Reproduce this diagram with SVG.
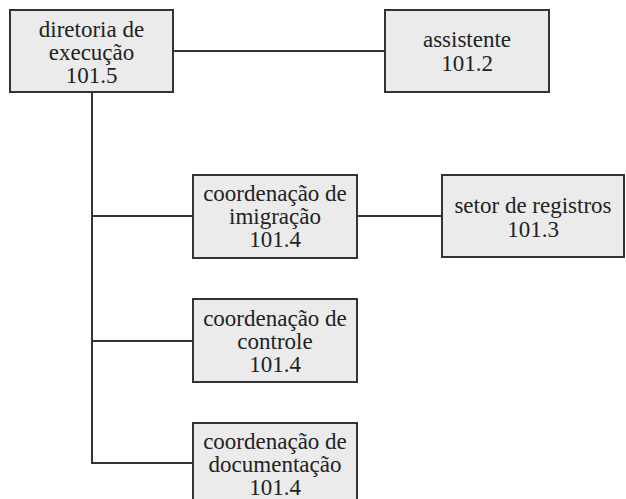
<svg xmlns="http://www.w3.org/2000/svg" width="626" height="499" viewBox="0 0 626 499">
<style>
.box{fill:#ebebeb;stroke:#333;stroke-width:2}
.ln{fill:none;stroke:#333;stroke-width:2}
.t{font-family:"Liberation Serif","Times New Roman",serif;font-size:23px;fill:#222;text-anchor:middle}
</style>
<rect width="626" height="499" fill="#fff"/>
<g id="connectors">
<line class="ln" x1="173" y1="51" x2="385" y2="51"/>
<polyline class="ln" points="92,92 92,463 193,463"/>
<line class="ln" x1="92" y1="216" x2="193" y2="216"/>
<line class="ln" x1="92" y1="341" x2="193" y2="341"/>
<line class="ln" x1="357" y1="216" x2="442" y2="216"/>
</g>
<g id="n1015">
<rect class="box" x="10" y="10" width="163" height="82"/>
<text class="t" x="91.5" y="37">diretoria de</text>
<text class="t" x="91.5" y="60">execução</text>
<text class="t" x="91.5" y="83">101.5</text>
</g>
<g id="n1012">
<rect class="box" x="385" y="10" width="164" height="82"/>
<text class="t" x="467" y="47">assistente</text>
<text class="t" x="467" y="71">101.2</text>
</g>
<g id="n1014a">
<rect class="box" x="193" y="175" width="164" height="83"/>
<text class="t" x="275" y="201">coordenação de</text>
<text class="t" x="275" y="224">imigração</text>
<text class="t" x="275" y="247">101.4</text>
</g>
<g id="n1013">
<rect class="box" x="442" y="175" width="182" height="82"/>
<text class="t" x="533" y="213">setor de registros</text>
<text class="t" x="533" y="237">101.3</text>
</g>
<g id="n1014b">
<rect class="box" x="193" y="299" width="164" height="83"/>
<text class="t" x="275" y="326">coordenação de</text>
<text class="t" x="275" y="349">controle</text>
<text class="t" x="275" y="372">101.4</text>
</g>
<g id="n1014c">
<rect class="box" x="193" y="423" width="164" height="83"/>
<text class="t" x="275" y="449">coordenação de</text>
<text class="t" x="275" y="472">documentação</text>
<text class="t" x="275" y="495">101.4</text>
</g>
</svg>
